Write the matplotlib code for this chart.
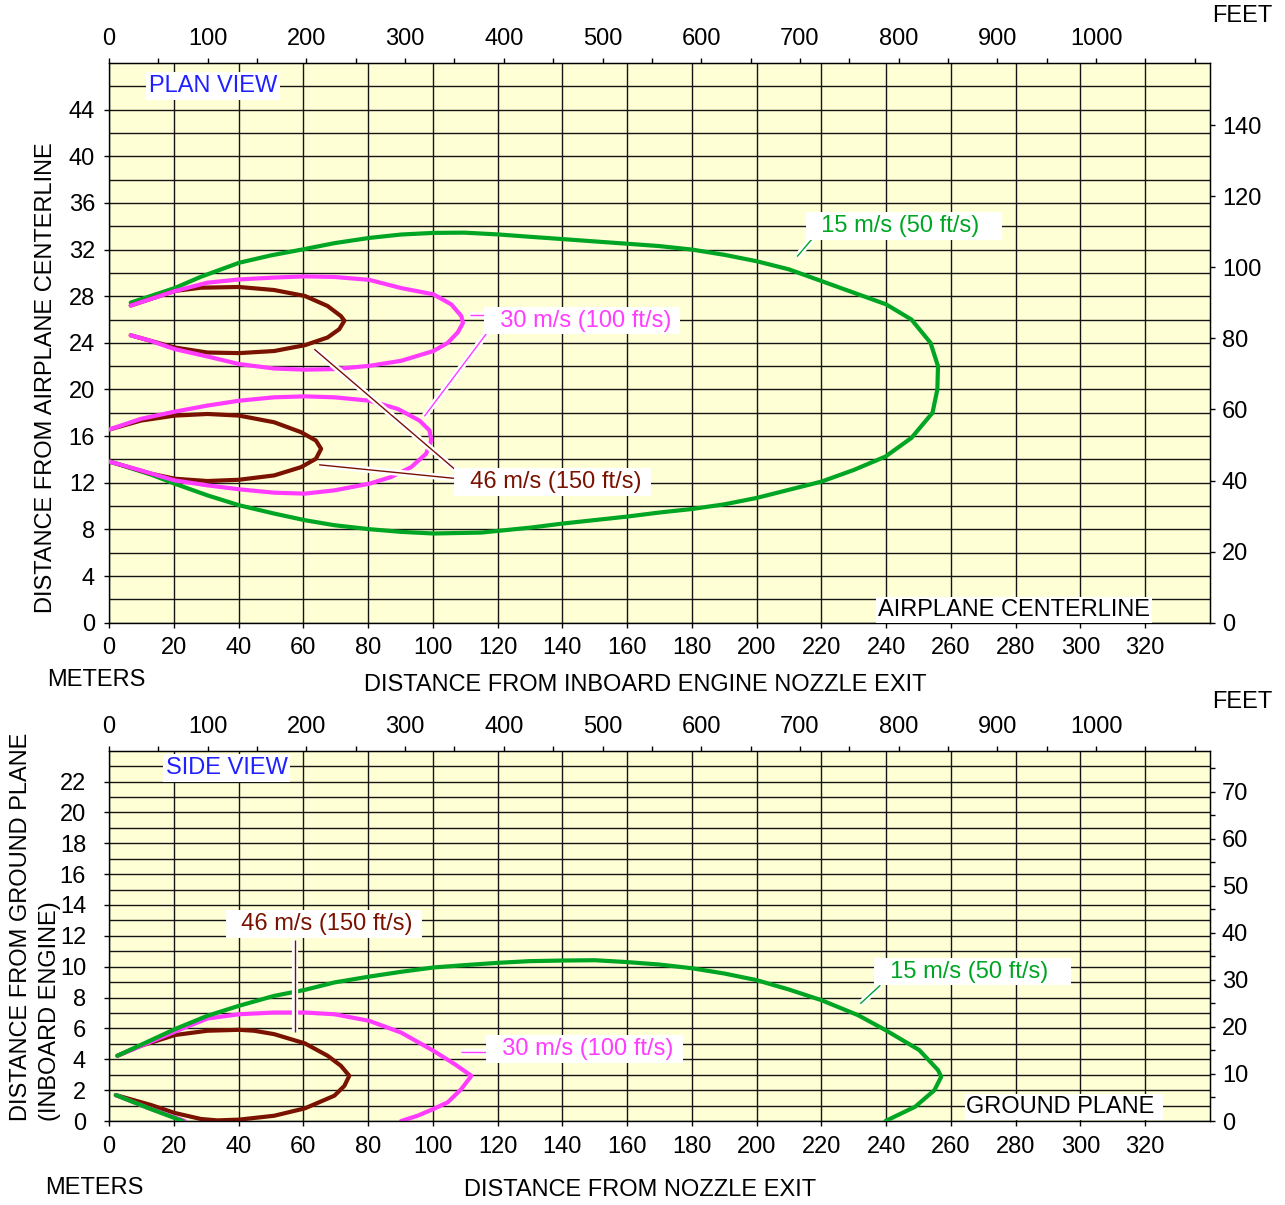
import matplotlib
matplotlib.use("Agg")
import matplotlib.pyplot as plt
import matplotlib.patheffects as pe
import numpy as np

plt.rcParams['font.family'] = ['Liberation Sans', 'DejaVu Sans']
plt.rcParams['font.size'] = 17
plt.rcParams['lines.solid_joinstyle'] = 'round'
plt.rcParams['lines.solid_capstyle'] = 'round'

# ---------------- data (meters) ----------------
# plan view contours
plan_15_x = [6.7, 20.3, 28.4, 40.2, 50, 60.5, 69.6, 80.4, 90.2, 100.2, 109.7, 120, 129.8, 140, 149.9, 160, 169.9,
             180, 190, 200, 210, 220, 230, 240, 247.8, 253.7, 256, 255.8, 254.3, 247.8, 239.8, 230, 220, 210, 200,
             190, 180, 170, 160, 150, 140, 130, 115, 100.2, 90.2, 80.4, 69.6, 60.5, 51, 40.2, 30.4, 20.3, 13, 0.5]
plan_15_y = [27.45, 28.7, 29.67, 30.87, 31.5, 32.05, 32.55, 33.0, 33.29, 33.43, 33.45, 33.3, 33.1, 32.9, 32.7, 32.5, 32.3,
             32.0, 31.55, 31.0, 30.3, 29.3, 28.3, 27.3, 26.0, 24.0, 22.0, 20.0, 18.0, 15.85, 14.25, 13.1, 12.1, 11.4, 10.7,
             10.15, 9.75, 9.45, 9.1, 8.8, 8.5, 8.15, 7.73, 7.65, 7.79, 8.02, 8.36, 8.79, 9.36, 10.07, 10.92, 11.92, 12.7, 13.8]

plan_30_up_x = [6.7, 20.3, 30.4, 40.2, 51, 60.5, 69.6, 80.4, 90.2, 100.2, 105.7, 108.8, 109.3, 107.7, 104.6, 100.2,
                90.2, 80.4, 69.6, 60.5, 51, 40.2, 30.4, 20.3, 12.9, 6.7]
plan_30_up_y = [27.2, 28.44, 29.16, 29.44, 29.6, 29.7, 29.65, 29.4, 28.7, 28.16, 27.3, 26.3, 25.7, 24.9, 24.0, 23.3,
                22.46, 22.03, 21.75, 21.7, 21.8, 22.18, 22.83, 23.46, 24.17, 24.65]

plan_30_lo_x = [0, 9.8, 20.3, 30.4, 40.2, 51, 60.5, 69.6, 80.4, 89.2, 95.9, 99, 99.5, 97.9, 93.3, 87.1, 80.4, 69.6,
                60.5, 51, 40.2, 30.4, 20.3, 9.8, 0]
plan_30_lo_y = [16.56, 17.48, 18.1, 18.62, 19.04, 19.33, 19.41, 19.33, 19.04, 18.33, 17.33, 16.48, 15.62, 14.48, 13.34,
                12.49, 11.92, 11.35, 11.07, 11.15, 11.44, 11.78, 12.2, 13.06, 13.83]

plan_46_up_x = [6.7, 20.3, 28.4, 40.2, 51, 60.5, 67.5, 71.6, 72.7, 71.1, 67.5, 60.5, 51, 40.2, 30.4, 20.3, 12.9, 6.7]
plan_46_up_y = [27.2, 28.45, 28.73, 28.79, 28.53, 28.02, 27.16, 26.3, 25.9, 25.17, 24.46, 23.8, 23.3, 23.12, 23.17,
                23.6, 24.17, 24.65]

plan_46_lo_x = [0, 9.8, 20.3, 30.4, 40.2, 51, 59.3, 63.9, 65.5, 63.9, 59.3, 51, 40.2, 30.4, 20.3, 12.9, 0]
plan_46_lo_y = [16.56, 17.33, 17.76, 17.9, 17.76, 17.19, 16.34, 15.62, 14.91, 14.06, 13.34, 12.63, 12.26, 12.15, 12.35,
                12.78, 13.83]

# side view contours (nan splits off the part that dips under the ground plane)
side_15_x = [2.6, 20.3, 30.4, 40.2, 51, 60.5, 69.6, 80.4, 90.2, 100.2, 109.7, 120, 129.8, 140, 150, 160, 170, 180,
             190, 200, 210, 220, 231.3, 239.8, 250.2, 256, 257, 254.9, 249, 239.8, np.nan, 2.1, 12, 22.7]
side_15_y = [4.23, 5.95, 6.82, 7.47, 8.11, 8.5, 8.98, 9.36, 9.67, 9.95, 10.1, 10.25, 10.36, 10.4, 10.42, 10.3, 10.14,
             9.9, 9.56, 9.13, 8.52, 7.83, 6.86, 5.89, 4.6, 3.3, 2.87, 2.0, 0.93, 0.0, np.nan, 1.68, 0.85, 0.0]

side_30_x = [2.6, 22.2, 30.4, 40.2, 51, 60.5, 69.6, 80.4, 90.2, 100.2, 106.7, 111.9, 108.8, 104.6, 100.2, 95.4, 90.2,
             np.nan, 2.1, 12, 23.4]
side_30_y = [4.23, 5.95, 6.64, 6.92, 7.03, 7.03, 6.92, 6.49, 5.73, 4.55, 3.69, 2.93, 2.07, 1.21, 0.78, 0.35, 0.0,
             np.nan, 1.68, 0.85, 0.0]

side_46_x = [2.6, 9.8, 20.3, 30.4, 40.2, 44.8, 51, 60.5, 67.5, 71.6, 74.2, 72.7, 69.6, 60.5, 51, 40.2, 33.5, 28.4,
             20.3, 12.9, 2.1]
side_46_y = [4.23, 4.87, 5.57, 5.85, 5.91, 5.85, 5.63, 5.03, 4.23, 3.58, 2.93, 2.28, 1.64, 0.82, 0.34, 0.09, 0.04, 0.13,
             0.52, 1.04, 1.68]

meter_ticks = list(range(0, 321, 20))
feet_ticks = list(range(0, 1001, 100))
feet_minor = list(range(50, 1051, 100)) + [1100]

GREEN = '#00a524'
MAGENTA = '#ff3cff'
BROWN = '#7a1200'
BLUE = '#2020ff'
BG = '#ffffd6'
M2FT = 1 / 0.3048

W, H = 1285, 1205
fig = plt.figure(figsize=(W / 100, H / 100), dpi=100)


def rect(l, t, r, b):
    return [l / W, 1 - b / H, (r - l) / W, (b - t) / H]


def setup(ax, ymax, ymaj, ymin, ftmaj, ftmin, lpad):
    ax.set_facecolor(BG)
    ax.set_xlim(0, 340)
    ax.set_ylim(0, ymax)
    ax.set_xticks(meter_ticks)
    ax.set_yticks(ymaj)
    ax.set_yticks(ymin, minor=True)
    ax.grid(True, which='both', color='#151515', lw=1.0)
    ax.set_axisbelow(True)
    ax.tick_params(which='major', length=3.5, width=1)
    ax.tick_params(which='minor', length=0)
    ax.tick_params(axis='x', pad=7)
    ax.tick_params(axis='y', pad=lpad)
    for s in ax.spines.values():
        s.set_linewidth(1)
    top = ax.secondary_xaxis('top', functions=(lambda m: m * M2FT, lambda f: f / M2FT))
    top.set_xticks(feet_ticks)
    top.set_xticks(feet_minor, minor=True)
    top.tick_params(which='both', length=3.5, width=1, pad=6)
    right = ax.secondary_yaxis('right', functions=(lambda m: m * M2FT, lambda f: f / M2FT))
    right.set_yticks(ftmaj)
    right.set_yticks(ftmin, minor=True)
    right.tick_params(which='both', length=3.5, width=1, pad=5)


def leader(ax, xs, ys, color):
    ax.plot(xs, ys, color=color, lw=1, zorder=4, solid_capstyle='butt',
            path_effects=[pe.Stroke(linewidth=4.5, foreground='white'), pe.Normal()])


def label(ax, x, y, s, color, pad=0.12):
    ax.text(x, y, s, color=color, ha='left', va='baseline', zorder=6,
            bbox=dict(boxstyle='square,pad=%s' % pad, fc='white', ec='none'))


# ---------------- plan view ----------------
ax1 = fig.add_axes(rect(109, 63, 1210, 622.7))
setup(ax1, 48, range(0, 45, 4), range(2, 48, 4), range(0, 141, 20), [], 6.5)

ax1.plot(plan_15_x, plan_15_y, color=GREEN, lw=3, zorder=2)
ax1.plot(plan_46_up_x, plan_46_up_y, color=BROWN, lw=3, zorder=2.5)
ax1.plot(plan_46_lo_x, plan_46_lo_y, color=BROWN, lw=3, zorder=2.5)
ax1.plot(plan_30_up_x, plan_30_up_y, color=MAGENTA, lw=3, zorder=3)
ax1.plot(plan_30_lo_x, plan_30_lo_y, color=MAGENTA, lw=3, zorder=3)

leader(ax1, [212.5, 217.7], [31.4, 33.1], GREEN)
leader(ax1, [111.5, 116.8], [26.35, 26.35], MAGENTA)
leader(ax1, [97.4, 118.6], [17.7, 25.55], MAGENTA)
leader(ax1, [63.4, 107.2], [23.46, 13.06], BROWN)
leader(ax1, [64.9, 107.7], [13.54, 12.35], BROWN)

label(ax1, 12.3, 45.5, 'PLAN VIEW', BLUE, pad=0.12)
label(ax1, 216.0, 33.5, '  15 m/s (50 ft/s)   ', GREEN)
label(ax1, 116.6, 25.4, '  30 m/s (100 ft/s) ', MAGENTA)
label(ax1, 107.5, 11.55, '  46 m/s (150 ft/s) ', BROWN)
label(ax1, 237.4, 0.55, 'AIRPLANE CENTERLINE', 'black', pad=0.08)

# ---------------- side view ----------------
ax2 = fig.add_axes(rect(109, 750.7, 1210, 1121))
setup(ax2, 24, range(0, 23, 2), range(1, 24, 2), range(0, 71, 10), range(5, 76, 10), 13)

ax2.plot(side_46_x, side_46_y, color=BROWN, lw=3, zorder=2)
ax2.plot(side_30_x, side_30_y, color=MAGENTA, lw=3, zorder=2.5)
ax2.plot(side_15_x, side_15_y, color=GREEN, lw=3, zorder=3)

leader(ax2, [57.5, 57.5], [11.7, 5.8], BROWN)
leader(ax2, [232.0, 238.2], [7.6, 8.8], GREEN)
leader(ax2, [108.6, 117.4], [4.5, 4.5], MAGENTA)

label(ax2, 17.5, 22.5, 'SIDE VIEW', BLUE, pad=0.12)
label(ax2, 36.9, 12.4, '  46 m/s (150 ft/s) ', BROWN)
label(ax2, 237.2, 9.3, '  15 m/s (50 ft/s)   ', GREEN)
label(ax2, 117.3, 4.27, '  30 m/s (100 ft/s) ', MAGENTA)
label(ax2, 264.8, 0.5, 'GROUND PLANE ', 'black', pad=0.08)

# ---------------- outer labels ----------------
def ftext(x, y, s, **kw):
    fig.text(x / W, 1 - y / H, s, **kw)


ftext(1212, 16, 'FEET', ha='left', va='center')
ftext(1212, 702, 'FEET', ha='left', va='center')
ftext(47, 680.5, 'METERS', ha='left', va='center')
ftext(45, 1188.5, 'METERS', ha='left', va='center')
ftext(645.5, 685, 'DISTANCE FROM INBOARD ENGINE NOZZLE EXIT', ha='center', va='center')
ftext(640, 1190.5, 'DISTANCE FROM NOZZLE EXIT', ha='center', va='center')
ftext(46.5, 377.5, 'DISTANCE FROM AIRPLANE CENTERLINE', rotation=90, ha='center', va='center')
ftext(21, 1120.7, 'DISTANCE FROM GROUND PLANE', rotation=90, ha='center', va='bottom')
ftext(50, 1120.7, '(INBOARD ENGINE)', rotation=90, ha='center', va='bottom')

fig.savefig('out.png', dpi=100)
